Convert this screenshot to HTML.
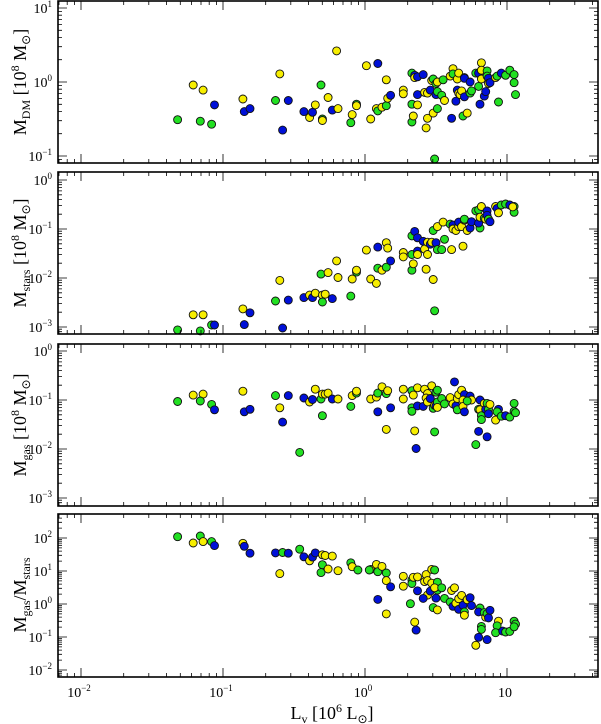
<!DOCTYPE html>
<html><head><meta charset="utf-8"><style>
body{margin:0;background:#fff;}
svg{display:block;font-family:"Liberation Serif",serif;}
</style></head><body>
<svg id="chart" width="601" height="724" viewBox="0 0 601 724" xmlns="http://www.w3.org/2000/svg"></svg>
<script>
// ---- data (log10 values) ----
const p1LogL=[-1.32,-1.21,-1.14,-1.06,-1.16,-1.08,-0.86,-0.85,-0.81,-0.63,-0.60,-0.54,-0.58,-0.43,-0.39,-0.37,-0.35,-0.31,-0.30,-0.30,-0.26,-0.23,-0.20,-0.19,-0.10,-0.09,-0.06,-0.06,0.01,0.04,0.09,0.08,0.09,0.12,0.15,0.15,0.16,0.18,0.27,0.27,0.33,0.33,0.34,0.33,0.35,0.35,0.37,0.37,0.37,0.41,0.42,0.43,0.44,0.44,0.46,0.47,0.48,0.48,0.50,0.50,0.51,0.51,0.51,0.49,0.54,0.56,0.55,0.60,0.61,0.62,0.62,0.65,0.65,0.64,0.66,0.66,0.67,0.68,0.69,0.70,0.70,0.70,0.72,0.74,0.74,0.75,0.78,0.80,0.81,0.80,0.82,0.82,0.82,0.84,0.85,0.86,0.86,0.87,0.87,0.88,0.92,0.93,0.94,0.96,0.99,1.02,1.05,1.05,1.06];
const p1LogM=[-0.51,-0.04,-0.11,-0.31,-0.53,-0.57,-0.23,-0.40,-0.36,-0.25,0.11,-0.25,-0.65,-0.40,-0.48,-0.41,-0.31,-0.04,-0.50,-0.52,-0.21,-0.38,0.42,-0.36,-0.55,-0.44,-0.30,-0.32,0.22,-0.50,0.25,-0.36,-0.39,-0.34,-0.32,0.03,-0.22,-0.18,-0.11,-0.16,0.12,-0.54,-0.46,-0.30,0.09,0.06,0.07,-0.17,-0.31,0.10,-0.14,-0.62,-0.15,-0.49,-0.11,0.02,0.04,-0.42,-0.17,-0.02,-0.13,0.00,-0.36,-1.04,-0.18,-0.25,0.03,0.08,-0.49,0.18,0.11,-0.11,0.04,-0.26,0.12,-0.15,-0.17,-0.12,-0.46,-0.20,0.06,0.05,-0.42,0.00,-0.15,-0.12,0.12,0.12,-0.30,-0.06,0.26,0.16,0.04,-0.19,-0.13,0.15,0.08,0.05,-0.02,-0.01,0.06,0.08,-0.27,0.12,0.09,0.16,0.10,-0.01,-0.17];
const p1Col="GYYBGGYBBGYBBBYBYGGYYBYYGYGYYYBYGYGYYBYYGGYGBYBBYBYYYYBYGYBGGYGGGYGYBYGBYBYYYYGBYBYBGGGBBGYYYBBGGBYBYGGBGGG";
const p2LogL=[-0.60,-0.54,-0.63,-0.43,-0.39,-0.86,-0.81,-1.21,-1.14,-1.08,-1.06,-0.85,-1.32,-1.16,-0.58,-0.37,-0.35,-0.30,-0.28,-0.30,-0.23,-0.31,-0.26,-0.20,-0.19,-0.10,-0.09,-0.06,-0.06,0.01,0.09,0.04,0.08,0.09,0.12,0.15,0.15,0.16,0.18,0.27,0.27,0.33,0.33,0.34,0.33,0.35,0.37,0.37,0.37,0.41,0.42,0.43,0.44,0.44,0.46,0.47,0.48,0.48,0.50,0.51,0.51,0.49,0.54,0.56,0.55,0.60,0.61,0.62,0.62,0.64,0.66,0.66,0.68,0.69,0.70,0.70,0.72,0.74,0.75,0.78,0.80,0.81,0.80,0.82,0.81,0.86,0.84,0.85,0.86,0.87,0.88,0.92,0.93,0.94,0.96,0.99,1.02,1.05,1.05,1.04];
const p2LogM=[-2.05,-2.45,-2.47,-2.40,-2.35,-2.63,-2.71,-2.75,-2.75,-2.96,-2.96,-2.95,-3.06,-3.08,-3.02,-2.40,-2.31,-2.35,-2.33,-2.49,-2.42,-1.92,-1.89,-1.65,-1.99,-2.37,-2.02,-1.88,-1.84,-1.43,-1.37,-2.02,-2.11,-1.80,-1.84,-1.78,-1.28,-1.39,-1.65,-1.48,-1.57,-1.14,-1.84,-1.71,-1.52,-1.05,-1.18,-1.45,-1.52,-1.25,-1.41,-1.82,-1.27,-1.52,-1.31,-1.27,-1.03,-2.03,-1.28,-1.42,-0.95,-2.67,-1.42,-1.21,-0.86,-0.90,-1.42,-0.92,-1.00,-1.03,-0.95,-0.86,-0.95,-1.35,-0.82,-0.80,-1.03,-0.98,-0.85,-0.63,-0.61,-0.98,-0.88,-0.54,-0.76,-0.63,-0.78,-0.80,-0.72,-0.80,-0.85,-0.54,-0.58,-0.67,-0.51,-0.49,-0.51,-0.54,-0.66,-0.55];
const p2Col="YBGBYYBYYGBBGGBBYYYGBGYYYGYGYYBYYGYGYYBYYGGYGBBBYBYYYYBYGYBGYGGGYGYBYYYBYYYGYBBGGGBYYBGYBGBYBYGGBGGY";
const p3LogL=[-1.32,-1.21,-1.14,-1.16,-1.08,-1.06,-0.86,-0.85,-0.81,-0.63,-0.60,-0.54,-0.58,-0.46,-0.43,-0.39,-0.37,-0.35,-0.31,-0.30,-0.28,-0.26,-0.30,-0.23,-0.19,-0.10,-0.09,-0.06,-0.06,0.04,0.08,0.09,0.09,0.12,0.15,0.16,0.15,0.18,0.27,0.27,0.33,0.33,0.33,0.34,0.35,0.36,0.37,0.37,0.41,0.42,0.44,0.43,0.44,0.46,0.47,0.48,0.49,0.50,0.50,0.51,0.51,0.51,0.49,0.54,0.56,0.60,0.63,0.62,0.64,0.65,0.65,0.66,0.68,0.70,0.69,0.69,0.70,0.74,0.75,0.72,0.78,0.80,0.80,0.81,0.81,0.82,0.82,0.84,0.85,0.86,0.86,0.87,0.87,0.88,0.92,0.94,0.93,0.96,0.99,1.02,1.05,1.05,1.06];
const p3LogM=[-1.03,-0.90,-0.88,-1.02,-1.09,-1.20,-0.82,-1.24,-1.19,-0.91,-1.16,-0.91,-1.45,-2.07,-0.96,-1.04,-0.99,-0.78,-0.98,-0.88,-0.88,-0.86,-1.32,-0.98,-0.98,-1.13,-0.91,-0.86,-0.82,-0.98,-0.94,-1.24,-0.86,-0.73,-0.87,-0.81,-1.60,-1.16,-0.78,-0.98,-1.16,-1.23,-0.81,-0.90,-1.63,-1.99,-1.12,-0.75,-1.13,-0.78,-0.87,-0.96,-1.04,-0.97,-0.71,-1.17,-1.11,-1.12,-0.84,-0.80,-1.04,-1.15,-1.65,-0.97,-1.08,-0.95,-0.63,-1.08,-1.12,-1.20,-0.97,-0.89,-0.80,-0.89,-1.00,-1.13,-1.24,-0.92,-1.00,-1.02,-1.91,-1.64,-1.19,-1.20,-1.00,-1.32,-1.40,-1.07,-1.19,-1.75,-1.07,-1.19,-1.28,-1.09,-1.41,-1.19,-1.24,-1.33,-1.32,-1.35,-1.07,-1.23,-1.26];
const p3Col="GYYGGBYBBGYBBGBYBYGYYYGBYGYGYYYBGYGYYBYYGGGYYBBYBYYYYBYGYBGGGYGGGYBYBGYYYBYYBBYGGBGYBGGYBBGGBYYBGGBGGG";
const p4LogL=[-1.32,-1.21,-1.16,-1.14,-1.08,-1.06,-0.86,-0.85,-0.81,-0.63,-0.58,-0.54,-0.60,-0.46,-0.43,-0.39,-0.37,-0.35,-0.30,-0.28,-0.23,-0.30,-0.31,-0.26,-0.19,-0.10,-0.09,-0.05,0.04,0.08,0.09,0.12,0.15,0.15,0.18,0.09,0.15,0.03,0.27,0.27,0.33,0.33,0.34,0.32,0.35,0.36,0.37,0.37,0.42,0.43,0.44,0.44,0.41,0.46,0.47,0.49,0.47,0.51,0.51,0.49,0.54,0.50,0.48,0.51,0.56,0.60,0.61,0.63,0.62,0.64,0.66,0.66,0.68,0.69,0.70,0.70,0.72,0.74,0.75,0.81,0.80,0.84,0.85,0.86,0.87,0.88,0.82,0.82,0.80,0.78,0.86,0.94,0.93,0.92,0.97,0.99,1.02,1.05,1.06,1.05];
const p4LogM=[2.04,1.85,2.06,1.89,1.89,1.77,1.84,1.75,1.54,1.55,1.56,1.54,0.92,1.66,1.43,1.31,1.42,1.55,1.49,1.47,1.45,1.19,0.95,1.06,1.01,1.25,1.13,1.03,1.05,1.20,0.98,1.14,0.94,0.71,0.52,0.14,-0.30,1.03,0.84,0.54,0.73,0.62,0.81,0.01,-0.55,-0.79,0.40,0.82,0.68,0.89,0.71,0.27,0.17,0.39,1.05,1.03,0.63,0.66,0.42,0.49,0.49,0.18,-0.11,-0.18,0.17,0.06,0.41,0.49,-0.07,0.02,0.16,-0.16,0.26,-0.04,-0.24,-0.34,0.13,0.19,-0.05,-0.12,-0.24,-0.26,-0.40,-0.29,-0.42,-0.19,-0.68,-0.77,-1.01,-1.25,-1.08,-0.52,-0.66,-0.87,-0.82,-0.85,-0.83,-0.52,-0.61,-0.69];
const p4Col="GYGYGBYBBBGBYGBYBBYYYGGYYGYGYYGYGYBBYGYYGGYGYBBYYYYYBBYGYGGYGBGYGGYYBYYBYBGYYBBGBGYGBBGGBYBYGGBGGG";
const xTickLabels=["10","10","10","10"];
const xTickSups=["−2","−1","0",""];
const xTickLogs=[-2,-1,0,1];

// ---- layout ----
const svg=document.getElementById('chart');
const NS="http://www.w3.org/2000/svg";
const X0=58,X1=598;
const xScale=l=>365+142*l;
const colors={Y:"#f7ee00",G:"#22e022",B:"#0010d8"};
const panels=[
 {name:"dm",top:1,bot:163,y0:82,dec:74,maj:[1,0,-1],L:p1LogL,M:p1LogM,C:p1Col},
 {name:"stars",top:172,bot:334,y0:180,dec:49,maj:[0,-1,-2,-3],L:p2LogL,M:p2LogM,C:p2Col},
 {name:"gas",top:344,bot:506,y0:351,dec:49,maj:[0,-1,-2,-3],L:p3LogL,M:p3LogM,C:p3Col},
 {name:"ratio",top:514,bot:677,y0:604,dec:33,maj:[2,1,0,-1,-2],L:p4LogL,M:p4LogM,C:p4Col}
];
function mk(tag,attrs,parent){const e=document.createElementNS(NS,tag);for(const k in attrs)e.setAttribute(k,attrs[k]);(parent||svg).appendChild(e);return e;}
const minors=[2,3,4,5,6,7,8,9].map(v=>Math.log10(v));

panels.forEach(p=>{
  const g=mk('g',{});
  
  
  const yS=m=>p.y0-p.dec*m;
  p.L.forEach((l,i)=>{
    const c=mk('circle',{cx:xScale(l).toFixed(1),cy:yS(p.M[i]).toFixed(1),r:4,fill:colors[p.C[i]]||"#22e022",stroke:"#111","stroke-width":0.9},g);
    
    
  });
  const fr=mk('rect',{x:X0,y:p.top,width:X1-X0,height:p.bot-p.top,fill:"none",stroke:"#000","stroke-width":1.6},g);
  
  
  let d="";
  for(let dc=-3;dc<=1;dc++){
    [0,...minors].forEach((m,j)=>{
      const x=xScale(dc+m); if(x<X0+1||x>X1-1) return;
      const len=j===0?9:4;
      d+=`M${x.toFixed(1)} ${p.bot}v${-len}M${x.toFixed(1)} ${p.top}v${len}`;
    });
  }
  const lo=p.maj[p.maj.length-1]-1, hi=p.maj[0]+1;
  for(let dc=lo;dc<=hi;dc++){
    [0,...minors].forEach((m,j)=>{
      const y=yS(dc+m); if(y<p.top+1||y>p.bot-1) return;
      const len=j===0?9:4;
      d+=`M${X0} ${y.toFixed(1)}h${len}M${X1} ${y.toFixed(1)}h${-len}`;
    });
  }
  const tk=mk('path',{d:d,stroke:"#000","stroke-width":0.8,fill:"none"},g);
  
  
  p.maj.forEach(v=>{
    const t=mk('text',{x:52,y:(yS(v)+5).toFixed(1),"text-anchor":"end","font-size":14},g);
    
    
    t.textContent="10";
    const s=mk('tspan',{"baseline-shift":"6","font-size":9},t); s.textContent=v<0?"−"+(-v):String(v);
  });
});

const titles=[
 {cy:82,parts:[["M",""],["DM","sub"],[" [10",""],["8","sup"],[" M",""],["⊙","sub"],["]",""]],name:"y-axis-title-dm"},
 {cy:253,parts:[["M",""],["stars","sub"],[" [10",""],["8","sup"],[" M",""],["⊙","sub"],["]",""]],name:"y-axis-title-stars"},
 {cy:425,parts:[["M",""],["gas","sub"],[" [10",""],["8","sup"],[" M",""],["⊙","sub"],["]",""]],name:"y-axis-title-gas"},
 {cy:595,parts:[["M",""],["gas","sub"],["/M",""],["stars","sub"]],name:"y-axis-title-ratio"}
];
function richText(parent,parts){
  parts.forEach(([s,k])=>{
    const ts=mk('tspan',{},parent);
    if(k==="sub"){ts.setAttribute('font-size',12);ts.setAttribute('baseline-shift','-4');}
    else if(k==="sup"){ts.setAttribute('font-size',12);ts.setAttribute('baseline-shift','7');}
    ts.textContent=s;
  });
}
titles.forEach(t=>{
  const e=mk('text',{x:0,y:0,"text-anchor":"middle","font-size":18,transform:`translate(26 ${t.cy}) rotate(-90)`});
  
  
  richText(e,t.parts);
});
xTickLogs.forEach((v,i)=>{
  const t=mk('text',{x:xScale(v)-2,y:697,"text-anchor":"middle","font-size":14});
  
  
  t.textContent=xTickLabels[i];
  if(xTickSups[i]){const s=mk('tspan',{"baseline-shift":"6","font-size":9},t);s.textContent=xTickSups[i];}
});
const xt=mk('text',{x:332,y:719,"text-anchor":"middle","font-size":18});


richText(xt,[["L",""],["v","sub"],[" [10",""],["6","sup"],[" L",""],["⊙","sub"],["]",""]]);
</script>
</body></html>
